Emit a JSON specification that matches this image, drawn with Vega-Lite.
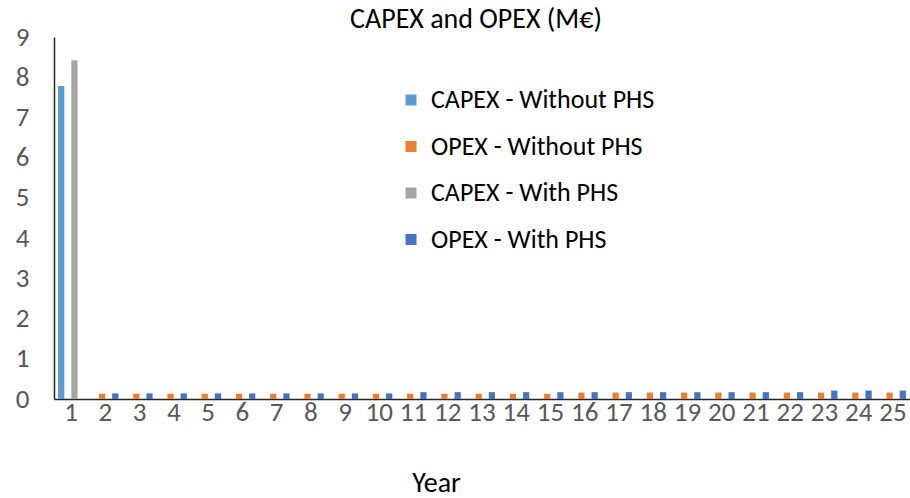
{
  "$schema": "https://vega.github.io/schema/vega-lite/v6.json",
  "width": 856,
  "height": 362,
  "autosize": "none",
  "padding": {"left": 54, "top": 37, "right": 0, "bottom": 99},
  "background": "white",
  "config": {
    "view": {"stroke": null},
    "font": "Carlito, Liberation Sans Narrow, Liberation Sans, sans-serif"
  },
  "title": {
    "text": "CAPEX and OPEX (M€)",
    "anchor": "middle",
    "fontSize": 28,
    "fontWeight": "normal",
    "color": "#000000",
    "offset": -11,
    "dx": -6
  },
  "data": {
    "values": [
      {"Year": 1, "Series": "CAPEX - Without PHS", "Value": 7.78},
      {"Year": 1, "Series": "CAPEX - With PHS", "Value": 8.42},
      {"Year": 2, "Series": "OPEX - Without PHS", "Value": 0.13},
      {"Year": 3, "Series": "OPEX - Without PHS", "Value": 0.13},
      {"Year": 4, "Series": "OPEX - Without PHS", "Value": 0.13},
      {"Year": 5, "Series": "OPEX - Without PHS", "Value": 0.13},
      {"Year": 6, "Series": "OPEX - Without PHS", "Value": 0.13},
      {"Year": 7, "Series": "OPEX - Without PHS", "Value": 0.13},
      {"Year": 8, "Series": "OPEX - Without PHS", "Value": 0.13},
      {"Year": 9, "Series": "OPEX - Without PHS", "Value": 0.13},
      {"Year": 10, "Series": "OPEX - Without PHS", "Value": 0.13},
      {"Year": 11, "Series": "OPEX - Without PHS", "Value": 0.13},
      {"Year": 12, "Series": "OPEX - Without PHS", "Value": 0.13},
      {"Year": 13, "Series": "OPEX - Without PHS", "Value": 0.13},
      {"Year": 14, "Series": "OPEX - Without PHS", "Value": 0.13},
      {"Year": 15, "Series": "OPEX - Without PHS", "Value": 0.13},
      {"Year": 16, "Series": "OPEX - Without PHS", "Value": 0.16},
      {"Year": 17, "Series": "OPEX - Without PHS", "Value": 0.16},
      {"Year": 18, "Series": "OPEX - Without PHS", "Value": 0.16},
      {"Year": 19, "Series": "OPEX - Without PHS", "Value": 0.16},
      {"Year": 20, "Series": "OPEX - Without PHS", "Value": 0.16},
      {"Year": 21, "Series": "OPEX - Without PHS", "Value": 0.16},
      {"Year": 22, "Series": "OPEX - Without PHS", "Value": 0.16},
      {"Year": 23, "Series": "OPEX - Without PHS", "Value": 0.16},
      {"Year": 24, "Series": "OPEX - Without PHS", "Value": 0.16},
      {"Year": 25, "Series": "OPEX - Without PHS", "Value": 0.16},
      {"Year": 2, "Series": "OPEX - With PHS", "Value": 0.14},
      {"Year": 3, "Series": "OPEX - With PHS", "Value": 0.14},
      {"Year": 4, "Series": "OPEX - With PHS", "Value": 0.14},
      {"Year": 5, "Series": "OPEX - With PHS", "Value": 0.14},
      {"Year": 6, "Series": "OPEX - With PHS", "Value": 0.14},
      {"Year": 7, "Series": "OPEX - With PHS", "Value": 0.14},
      {"Year": 8, "Series": "OPEX - With PHS", "Value": 0.14},
      {"Year": 9, "Series": "OPEX - With PHS", "Value": 0.14},
      {"Year": 10, "Series": "OPEX - With PHS", "Value": 0.14},
      {"Year": 11, "Series": "OPEX - With PHS", "Value": 0.17},
      {"Year": 12, "Series": "OPEX - With PHS", "Value": 0.17},
      {"Year": 13, "Series": "OPEX - With PHS", "Value": 0.17},
      {"Year": 14, "Series": "OPEX - With PHS", "Value": 0.17},
      {"Year": 15, "Series": "OPEX - With PHS", "Value": 0.17},
      {"Year": 16, "Series": "OPEX - With PHS", "Value": 0.17},
      {"Year": 17, "Series": "OPEX - With PHS", "Value": 0.17},
      {"Year": 18, "Series": "OPEX - With PHS", "Value": 0.17},
      {"Year": 19, "Series": "OPEX - With PHS", "Value": 0.17},
      {"Year": 20, "Series": "OPEX - With PHS", "Value": 0.17},
      {"Year": 21, "Series": "OPEX - With PHS", "Value": 0.17},
      {"Year": 22, "Series": "OPEX - With PHS", "Value": 0.17},
      {"Year": 23, "Series": "OPEX - With PHS", "Value": 0.21},
      {"Year": 24, "Series": "OPEX - With PHS", "Value": 0.21},
      {"Year": 25, "Series": "OPEX - With PHS", "Value": 0.21}
    ]
  },
  "mark": {"type": "bar"},
  "encoding": {
    "x": {
      "field": "Year",
      "type": "ordinal",
      "scale": {"domain": [1,2,3,4,5,6,7,8,9,10,11,12,13,14,15,16,17,18,19,20,21,22,23,24,25], "paddingInner": 0.24, "paddingOuter": 0.12},
      "axis": {
        "title": "Year",
        "titleFontSize": 28,
        "titleFontWeight": "normal",
        "titleColor": "#000000",
        "titlePadding": 44,
        "titleX": 382,
        "titleAnchor": "middle",
        "labelAngle": 0,
        "labelFontSize": 27,
        "labelColor": "#595959",
        "labelPadding": 0,
        "labelOverlap": false,
        "ticks": false,
        "domainColor": "#262626",
        "domainWidth": 1.5
      }
    },
    "xOffset": {
      "field": "Series",
      "type": "nominal",
      "scale": {"domain": ["CAPEX - Without PHS", "OPEX - Without PHS", "CAPEX - With PHS", "OPEX - With PHS"], "paddingInner": 0.06}
    },
    "y": {
      "field": "Value",
      "type": "quantitative",
      "scale": {"domain": [0, 9], "nice": false},
      "axis": {
        "title": null,
        "values": [0,1,2,3,4,5,6,7,8,9],
        "grid": false,
        "ticks": false,
        "labelOverlap": false,
        "labelFontSize": 27,
        "labelColor": "#595959",
        "labelPadding": 25,
        "domainColor": "#262626",
        "domainWidth": 1.5
      }
    },
    "color": {
      "field": "Series",
      "type": "nominal",
      "scale": {
        "domain": ["CAPEX - Without PHS", "OPEX - Without PHS", "CAPEX - With PHS", "OPEX - With PHS"],
        "range": ["#5B9BD5", "#ED7D31", "#A5A5A5", "#4472C4"]
      },
      "legend": {
        "title": null,
        "orient": "none",
        "legendX": 344,
        "legendY": 50,
        "symbolType": "square",
        "symbolSize": 121,
        "symbolStrokeWidth": 0,
        "labelFontSize": 26,
        "labelColor": "#000000",
        "labelOffset": 7,
        "rowPadding": 20.5,
        "labelLimit": 400
      }
    }
  }
}
